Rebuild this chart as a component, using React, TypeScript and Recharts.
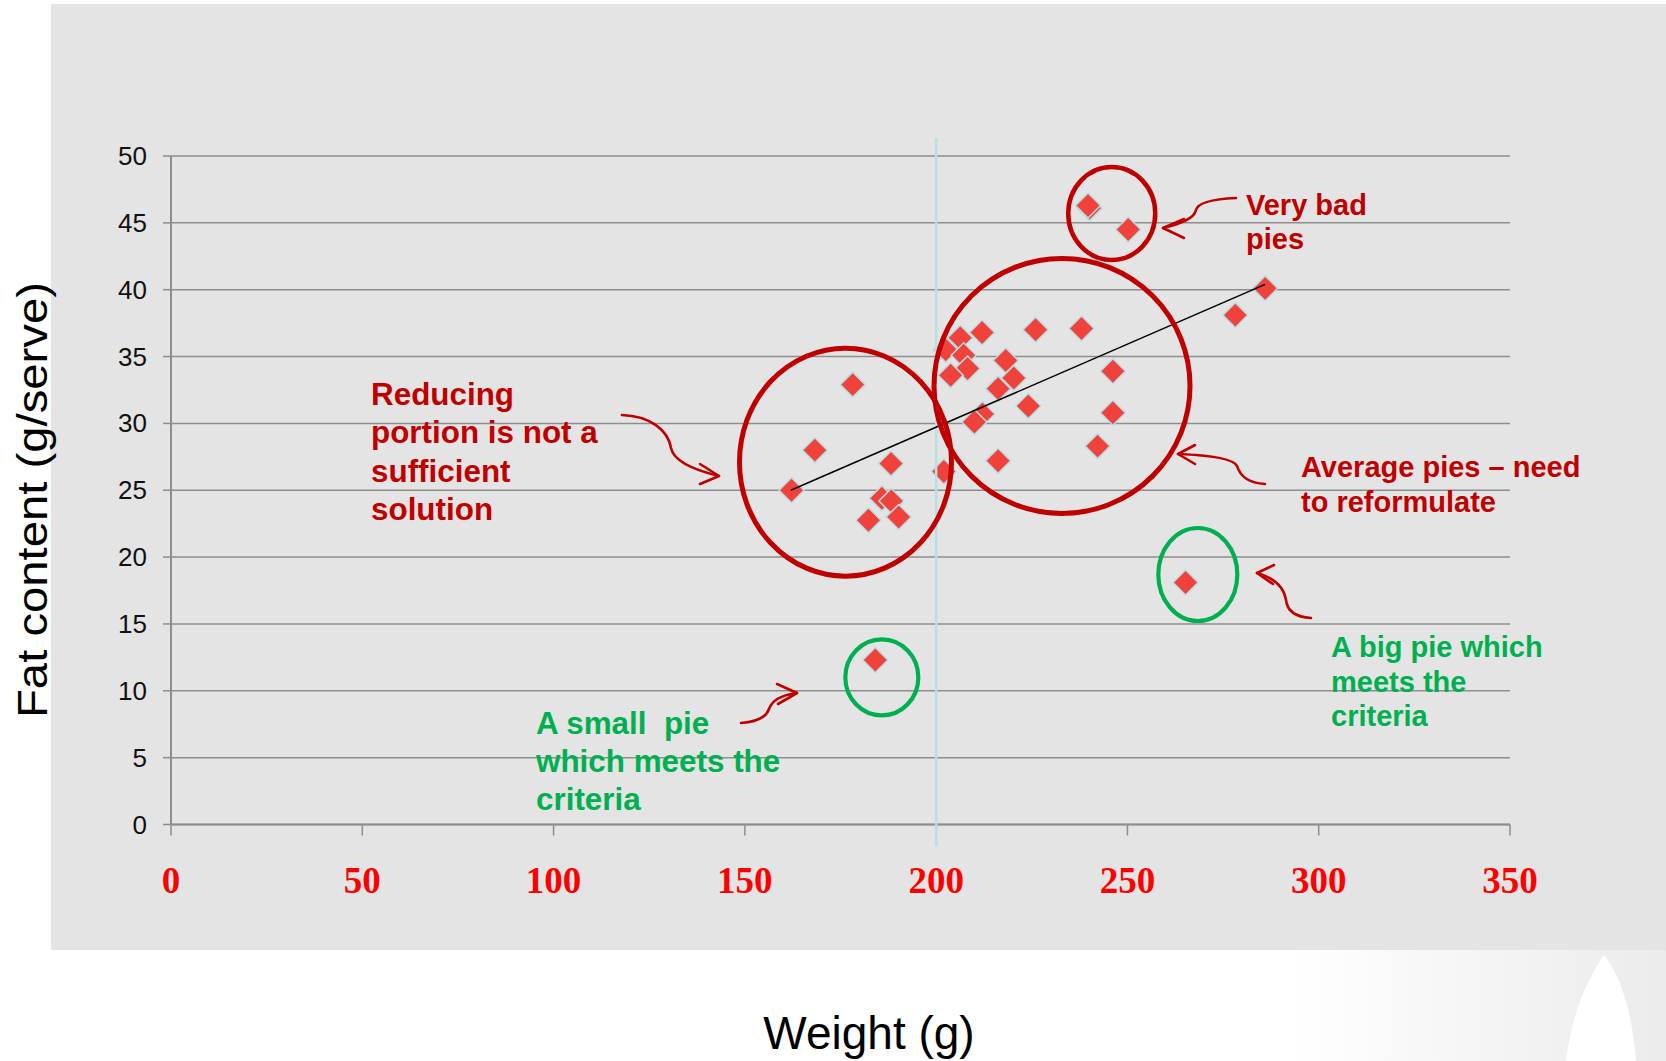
import React from "react"
import {
  ScatterChart,
  Scatter,
  XAxis,
  YAxis,
  CartesianGrid,
  ReferenceLine,
  ReferenceDot,
} from "recharts"

// pie weight (g) and fat content (g/serve), one entry per product
const weights = [
  240.1, 239.7, 250.2, 286.0, 278.2, 212.0, 226.0, 238.0, 206.3, 202.5, 207.2, 208.2,
  218.2, 246.2, 203.8, 220.3, 216.2, 224.1, 246.2, 212.1, 210.0, 242.2, 216.2, 202.0,
  178.2, 168.3, 188.2, 162.2, 185.8, 188.3, 182.3, 190.2, 265.2, 184.1,
]
const fats = [
  46.1, 46.3, 44.5, 40.1, 38.1, 36.8, 37.0, 37.1, 36.4, 35.5, 35.1, 34.1,
  34.7, 33.9, 33.6, 33.4, 32.6, 31.3, 30.8, 30.7, 30.1, 28.3, 27.2, 26.4,
  32.9, 28.0, 27.0, 25.0, 24.4, 24.2, 22.75, 23.0, 18.1, 12.3,
]

const xTicks = [0, 50, 100, 150, 200, 250, 300, 350]
const yTicks = [0, 5, 10, 15, 20, 25, 30, 35, 40, 45, 50]

// trend line end points
const trendWeights = [162, 286]
const trendFats = [25.0, 40.4]

// weight threshold marker
const thresholdWeight = 200

// ringed groups of pies (centre in data units)
const groupWeights = [245.9, 232.9, 176.3, 268.4, 185.8]
const groupFats = [45.7, 32.8, 27.1, 18.7, 11.0]

const pies = weights.map((w, i) => ({ weight: w, fat: fats[i] }))

const RED = "#c00000"
const GREEN = "#00b050"
const SANS = "'Liberation Sans', Arial, sans-serif"

const ringStyles = [
  { rx: 43.5, ry: 46.5, color: RED, width: 4.5 },
  { rx: 128, ry: 127.5, color: RED, width: 5 },
  { rx: 106, ry: 114, color: RED, width: 5 },
  { rx: 39.5, ry: 46.5, color: GREEN, width: 4.2 },
  { rx: 36.5, ry: 38, color: GREEN, width: 4.2 },
]

const notes = [
  { lines: ["Very bad", "pies"], x: 1246, y: 215, size: 29, lh: 34, color: RED },
  {
    lines: ["Reducing", "portion is not a", "sufficient", "solution"],
    x: 371,
    y: 405,
    size: 31.4,
    lh: 38.3,
    color: RED,
  },
  {
    lines: ["Average pies \u2013 need", "to reformulate"],
    x: 1301,
    y: 477,
    size: 29,
    lh: 34.5,
    color: RED,
  },
  {
    lines: ["A big pie which", "meets the", "criteria"],
    x: 1331,
    y: 657,
    size: 29,
    lh: 34.5,
    color: GREEN,
  },
  {
    lines: ["A small\u00a0 pie", "which meets the", "criteria"],
    x: 536,
    y: 734,
    size: 31.4,
    lh: 38,
    color: GREEN,
  },
]

// hand-drawn pointer arrows: curve + open head
const arrows = [
  {
    curve: "M1236,198 C1215,199 1198,202 1196,210 C1194,219 1180,224 1163,228",
    head: "M1184,219 L1163,228 L1184,238",
  },
  {
    curve: "M622,415 C650,416 668,430 671,448 C674,462 698,471 719,476",
    head: "M700,464 L719,476 L700,484",
  },
  {
    curve: "M1265,484 C1248,483 1240,476 1237,466 C1233,458 1205,455 1178,454",
    head: "M1195,445 L1178,454 L1195,464",
  },
  {
    curve: "M1311,618 C1295,617 1287,610 1286,600 C1284,588 1275,578 1257,573",
    head: "M1274,565 L1257,573 L1273,584",
  },
  {
    curve: "M741,723 C755,722 766,718 769,709 C772,700 782,695 797,693",
    head: "M777,684 L797,693 L778,704",
  },
]

function Diamond(props: any) {
  const { cx, cy } = props
  const s = 12.5
  return (
    <polygon
      points={`${cx},${cy - s} ${cx + s},${cy} ${cx},${cy + s} ${cx - s},${cy}`}
      fill="#f0413b"
      stroke="#b8dde3"
      strokeWidth={1.5}
    />
  )
}

function YTick(props: any) {
  const { x, y, payload } = props
  return (
    <text x={x} y={y} textAnchor="end" dominantBaseline="central" fontFamily={SANS} fontSize={26} fill="#111">
      {payload.value}
    </text>
  )
}

function XTick(props: any) {
  const { x, y, payload } = props
  return (
    <text
      x={x}
      y={y + 55}
      textAnchor="middle"
      fontFamily="'Liberation Serif', 'Times New Roman', serif"
      fontWeight="bold"
      fontSize={37}
      fill="#ff0000"
    >
      {payload.value}
    </text>
  )
}

export default function App() {
  return (
    <div style={{ position: "absolute", left: 0, top: 0, width: 1666, height: 1061, background: "#fff" }}>
      <svg width={1666} height={1061} style={{ position: "absolute", left: 0, top: 0 }}>
        <defs>
          <linearGradient id="fade" x1="0" y1="0" x2="1" y2="0">
            <stop offset="0" stopColor="#ffffff" />
            <stop offset="1" stopColor="#ebebeb" />
          </linearGradient>
        </defs>
        <rect x={51} y={4} width={1615} height={946} fill="#e4e4e4" />
        <rect x={1290} y={950} width={376} height={111} fill="url(#fade)" />
        <path d="M1604,955 C1590,975 1572,1010 1566,1061 L1636,1061 C1632,1010 1620,975 1604,955 Z" fill="#fff" />
      </svg>

      <div style={{ position: "absolute", left: 0, top: 0 }}>
        <ScatterChart width={1666} height={1061} margin={{ top: 156, right: 156, bottom: 176.5, left: 0 }}>
          <CartesianGrid vertical={false} stroke="#8e8e8e" strokeWidth={1.5} />
          <XAxis
            type="number"
            dataKey="weight"
            domain={[0, 350]}
            ticks={xTicks}
            height={60}
            tickSize={11}
            tickMargin={2}
            axisLine={{ stroke: "#8e8e8e", strokeWidth: 2 }}
            tickLine={{ stroke: "#8e8e8e", strokeWidth: 1.5 }}
            tick={XTick}
          />
          <YAxis
            type="number"
            dataKey="fat"
            domain={[0, 50]}
            ticks={yTicks}
            width={171}
            tickSize={8}
            tickMargin={16}
            axisLine={{ stroke: "#8e8e8e", strokeWidth: 2 }}
            tickLine={{ stroke: "#8e8e8e", strokeWidth: 1.5 }}
            tick={YTick}
          />
          <Scatter data={pies} shape={Diamond} isAnimationActive={false} />
          <ReferenceLine
            segment={[
              { x: thresholdWeight, y: 51.35 },
              { x: thresholdWeight, y: -1.65 },
            ]}
            ifOverflow="visible"
            stroke="#b9dfe3"
            strokeWidth={2.5}
            zIndex={700}
          />
          <ReferenceLine
            segment={[
              { x: trendWeights[0], y: trendFats[0] },
              { x: trendWeights[1], y: trendFats[1] },
            ]}
            stroke="#000"
            strokeWidth={1.5}
            zIndex={710}
          />
          {groupWeights.map((w, i) => (
            <ReferenceDot
              key={i}
              x={w}
              y={groupFats[i]}
              r={1}
              ifOverflow="visible"
              zIndex={720}
              shape={(p: any) => (
                <ellipse
                  cx={p.cx}
                  cy={p.cy}
                  rx={ringStyles[i].rx}
                  ry={ringStyles[i].ry}
                  fill="none"
                  stroke={ringStyles[i].color}
                  strokeWidth={ringStyles[i].width}
                />
              )}
            />
          ))}
        </ScatterChart>
      </div>

      <svg width={1666} height={1061} style={{ position: "absolute", left: 0, top: 0, pointerEvents: "none" }}>
        {arrows.map((a, i) => (
          <g key={i} fill="none" stroke={RED} strokeWidth={2.6} strokeLinecap="round" strokeLinejoin="round">
            <path d={a.curve} />
            <path d={a.head} />
          </g>
        ))}
        {notes.map((n, i) => (
          <text key={i} x={n.x} y={n.y} fontFamily={SANS} fontWeight="bold" fontSize={n.size} fill={n.color}>
            {n.lines.map((line, j) => (
              <tspan key={j} x={n.x} y={n.y + j * n.lh} xmlSpace="preserve">
                {line}
              </tspan>
            ))}
          </text>
        ))}
        <text
          transform="translate(32,500) rotate(-90)"
          textAnchor="middle"
          dominantBaseline="central"
          fontFamily={SANS}
          fontSize={43}
          textLength={436}
          lengthAdjust="spacingAndGlyphs"
          fill="#000"
        >
          Fat content (g/serve)
        </text>
        <text x={869} y={1049} textAnchor="middle" fontFamily={SANS} fontSize={46} fill="#000">
          Weight (g)
        </text>
      </svg>
    </div>
  )
}
